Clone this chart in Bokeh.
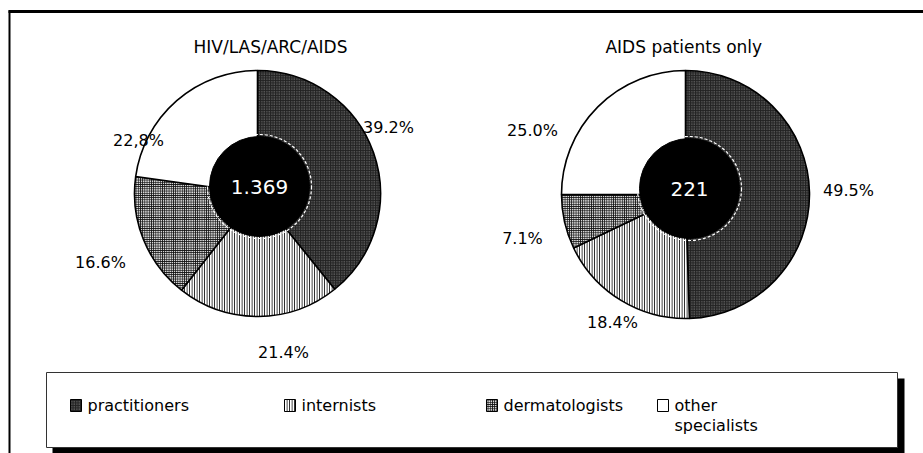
import math
from bokeh.plotting import figure
from bokeh.models import Range1d
from bokeh.core.properties import value
from bokeh.embed import file_html
from bokeh.resources import INLINE

# ---------------- data ----------------
categories = ["practitioners", "internists", "dermatologists", "other specialists"]
titles = ["HIV/LAS/ARC/AIDS", "AIDS  patients only"]
totals = ["1.369", "221"]
shares_all = [39.2, 21.4, 16.6, 22.8]
shares_aids = [49.5, 18.4, 7.1, 25.0]
label_all = ["39.2%", "21.4%", "16.6%", "22,8%"]
label_aids = ["49.5%", "18.4%", "7.1%", "25.0%"]

# ---------------- layout (page pixels) ----------------
W, H = 923, 453
def Y(py):  # page y -> data y
    return 453 - py

FONT = "DejaVu Sans"
styles = [
    dict(fill_color="#222222", hatch_pattern="dot", hatch_color="#8c8c8c", hatch_scale=2.5, hatch_weight=1),
    dict(fill_color="white", hatch_pattern="vertical_line", hatch_color="black", hatch_scale=2.5, hatch_weight=1),
    dict(fill_color="#d8d8d8", hatch_pattern="cross", hatch_color="#111111", hatch_scale=2.2, hatch_weight=1.2),
    dict(fill_color="white"),
]

p = figure(width=W, height=H, output_backend="svg", toolbar_location=None,
           x_range=Range1d(0, 923), y_range=Range1d(0, 453), min_border=0)
p.axis.visible = False
p.grid.visible = False
p.outline_line_color = None
p.background_fill_color = "white"

# outer frame (top and left only visible)
p.segment(x0=[8], y0=[Y(11)], x1=[923], y1=[Y(11)], line_color="black", line_width=3)
p.segment(x0=[9], y0=[Y(10)], x1=[9], y1=[Y(453)], line_color="black", line_width=2)

pies = [
    dict(cx=257, cy=193, r=123, hole=(259, 186, 50), shares=shares_all, labels=label_all,
         title=titles[0], tx=270, total=totals[0],
         offs=[(131, -66), (26, 159), (-157, 69), (-119, -53)]),
    dict(cx=685, cy=194, r=124, hole=(689, 188, 50), shares=shares_aids, labels=label_aids,
         title=titles[1], tx=686, total=totals[1],
         offs=[(163, -4), (-73, 128), (-163, 44), (-153, -64)]),
]

for pie in pies:
    cum = 0.0
    tot = sum(pie["shares"])
    for i, s in enumerate(pie["shares"]):
        a0 = math.pi / 2 - 2 * math.pi * cum / tot
        cum += s
        a1 = math.pi / 2 - 2 * math.pi * cum / tot
        p.wedge(x=[pie["cx"]], y=[Y(pie["cy"])], radius=pie["r"],
                start_angle=[a0], end_angle=[a1], direction="clock",
                line_color="black", line_width=1.6, **styles[i])
        dx, dy = pie["offs"][i]
        p.text(x=[pie["cx"] + dx], y=[Y(pie["cy"] + dy)], text=[pie["labels"][i]],
               text_font=value(FONT), text_font_size="16px", text_color="black",
               text_align="center", text_baseline="middle")
    hx, hy, hr = pie["hole"]
    p.circle(x=[hx], y=[Y(hy)], radius=hr + 2, fill_color=None, line_color="white",
             line_width=1.2, line_dash="3 2")
    p.circle(x=[hx], y=[Y(hy)], radius=hr, fill_color="black", line_color="black")
    p.text(x=[hx], y=[Y(hy)], text=[pie["total"]], text_font=value(FONT),
           text_font_size="20px", text_color="white", text_align="center",
           text_baseline="middle")
    p.text(x=[pie["tx"]], y=[Y(46)], text=[pie["title"]], text_font=value(FONT),
           text_font_size="17px", text_color="black", text_align="center",
           text_baseline="middle")

# legend box with shadow
p.quad(left=[52], right=[904], top=[Y(378)], bottom=[Y(455)], fill_color="black", line_color=None)
p.quad(left=[46], right=[897], top=[Y(372)], bottom=[Y(447)], fill_color="white",
       line_color="#333333", line_width=1)

sw_x = [70, 284, 486, 657]
tx_x = [87, 301, 503, 674]
for i, c in enumerate(categories):
    p.quad(left=[sw_x[i]], right=[sw_x[i] + 11], top=[Y(399)], bottom=[Y(411)],
           line_color="black", line_width=1, **styles[i])
    lines = c.split(" ")
    if len(lines) == 1:
        p.text(x=[tx_x[i]], y=[Y(405)], text=[c], text_font=value(FONT), text_font_size="16px",
               text_align="left", text_baseline="middle", text_color="black")
    else:
        for j, w in enumerate(lines):
            p.text(x=[tx_x[i]], y=[Y(405 + 20 * j)], text=[w], text_font=value(FONT),
                   text_font_size="16px", text_align="left", text_baseline="middle",
                   text_color="black")

open("out.html", "w").write(file_html(p, INLINE))
